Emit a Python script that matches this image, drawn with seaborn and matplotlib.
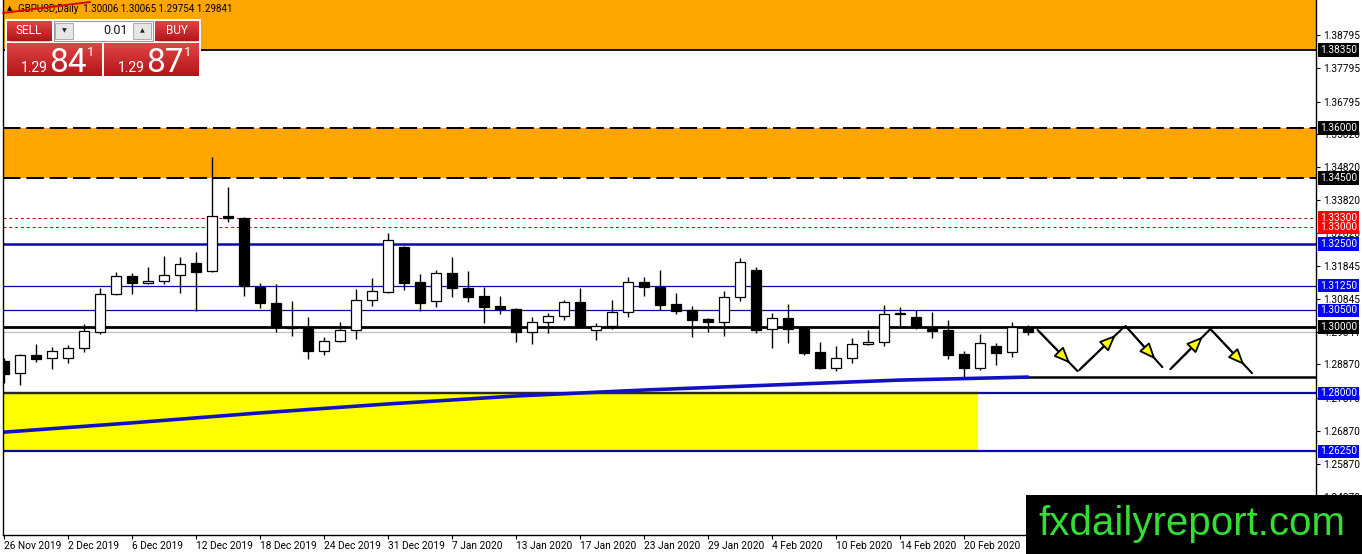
import numpy as np
import matplotlib
matplotlib.use("Agg")
import matplotlib.pyplot as plt
import matplotlib.transforms as mtransforms
from matplotlib.colors import LinearSegmentedColormap
from matplotlib.patches import Rectangle
from matplotlib.lines import Line2D
import seaborn as sns

# daily GBPUSD bars, 26 Nov 2019 .. 26 Feb 2020
opens = [1.2898, 1.2861, 1.2916, 1.2907, 1.2907, 1.2937, 1.2985, 1.3099, 1.3154, 1.3133,
         1.3139, 1.3157, 1.3193, 1.3169, 1.3335, 1.3329, 1.3121, 1.3072, 1.3000, 1.3000,
         1.2928, 1.2958, 1.2991, 1.3081, 1.3106, 1.3241, 1.3136, 1.3078, 1.3163, 1.3118,
         1.3093, 1.3063, 1.3054, 1.2985, 1.3015, 1.3033, 1.3075, 1.2991, 1.3003, 1.3045,
         1.3136, 1.3121, 1.3069, 1.3051, 1.3024, 1.3015, 1.3090, 1.3172, 1.2994, 1.3027,
         1.2997, 1.2925, 1.2876, 1.2907, 1.2949, 1.2955, 1.3039, 1.3030, 1.3000, 1.2991,
         1.2919, 1.2876, 1.2943, 1.2925, 1.30006]
highs = [1.2907, 1.2918, 1.2949, 1.2940, 1.2946, 1.3009, 1.3118, 1.3166, 1.3163, 1.3181,
         1.3214, 1.3211, 1.3226, 1.3513, 1.3422, 1.3332, 1.3133, 1.3130, 1.3078, 1.3030,
         1.2970, 1.3015, 1.3115, 1.3148, 1.3283, 1.3243, 1.3160, 1.3172, 1.3211, 1.3169,
         1.3121, 1.3093, 1.3056, 1.3030, 1.3042, 1.3081, 1.3118, 1.3012, 1.3081, 1.3151,
         1.3151, 1.3172, 1.3103, 1.3063, 1.3027, 1.3109, 1.3208, 1.3181, 1.3042, 1.3069,
         1.2999, 1.2955, 1.2943, 1.2967, 1.2991, 1.3066, 1.3060, 1.3051, 1.3045, 1.3021,
         1.2928, 1.2979, 1.2952, 1.3015, 1.30065]
lows = [1.2831, 1.2825, 1.2894, 1.2873, 1.2891, 1.2925, 1.2979, 1.3097, 1.3099, 1.3130,
        1.3130, 1.3103, 1.3048, 1.3166, 1.3317, 1.3093, 1.3057, 1.2985, 1.2973, 1.2904,
        1.2916, 1.2955, 1.2964, 1.3063, 1.3103, 1.3112, 1.3048, 1.3060, 1.3090, 1.3075,
        1.3012, 1.3039, 1.2955, 1.2949, 1.2982, 1.3021, 1.2998, 1.2961, 1.2994, 1.3030,
        1.3093, 1.3051, 1.3039, 1.2970, 1.2985, 1.2973, 1.3078, 1.2982, 1.2937, 1.2952,
        1.2916, 1.2873, 1.2867, 1.2891, 1.2946, 1.2943, 1.3003, 1.2994, 1.2967, 1.2904,
        1.2849, 1.2870, 1.2885, 1.2910, 1.29754]
closes = [1.2858, 1.2916, 1.2904, 1.2928, 1.2937, 1.2988, 1.3099, 1.3154, 1.3133, 1.3139,
          1.3157, 1.3190, 1.3166, 1.3335, 1.3329, 1.3124, 1.3072, 1.3000, 1.2997, 1.2928,
          1.2958, 1.2991, 1.3081, 1.3109, 1.3262, 1.3133, 1.3072, 1.3163, 1.3118, 1.3090,
          1.3060, 1.3054, 1.2985, 1.3015, 1.3033, 1.3075, 1.3000, 1.3003, 1.3045, 1.3136,
          1.3121, 1.3066, 1.3048, 1.3021, 1.3015, 1.3090, 1.3196, 1.2991, 1.3027, 1.2994,
          1.2922, 1.2876, 1.2907, 1.2949, 1.2955, 1.3039, 1.3042, 1.3000, 1.2988, 1.2916,
          1.2876, 1.2952, 1.2922, 1.3000, 1.29841]

date_labels = ["26 Nov 2019", "2 Dec 2019", "6 Dec 2019", "12 Dec 2019", "18 Dec 2019",
               "24 Dec 2019", "31 Dec 2019", "7 Jan 2020", "13 Jan 2020", "17 Jan 2020",
               "23 Jan 2020", "29 Jan 2020", "4 Feb 2020", "10 Feb 2020", "14 Feb 2020",
               "20 Feb 2020"]

# slow moving average (sampled every 8 bars)
ma_idx = [0, 8, 16, 24, 32, 40, 48, 56, 64]
ma_val = [1.2683, 1.2711, 1.2741, 1.2768, 1.2792, 1.2810, 1.2825, 1.2840, 1.2849]

# price axis
ytick_vals = [1.38795, 1.37795, 1.36795, 1.35820, 1.34820, 1.33820, 1.32820, 1.31845,
              1.30845, 1.29841, 1.28870, 1.27870, 1.26870, 1.25870, 1.24870]
level_vals = [1.38350, 1.36000, 1.34500, 1.33300, 1.33000, 1.32500, 1.31250, 1.30500,
              1.30000, 1.28000, 1.26250]
level_cols = ["black", "black", "black", "#ff0000", "#ff0000", "#0000ff", "#0000ff",
              "#0000ff", "black", "#0000ff", "#0000ff"]

# zones and the projected zig-zag
supply_top = (1.3835, 1.40)
supply_mid = (1.3450, 1.3600)
demand = (1.2625, 1.2800)
demand_end = 60.9
support_lvl = 1.2850
support_start = 63.8
zigzag = [(64.6, 1.2991, 67.1, 1.2867),
          (67.2, 1.2870, 70.0, 1.3000),
          (70.1, 1.3003, 72.4, 1.2879),
          (72.9, 1.2873, 75.4, 1.2994),
          (75.4, 1.2994, 78.0, 1.2861)]

sns.set_theme(style="white")
plt.rcParams["font.family"] = ["Roboto", "DejaVu Sans"]

W, H = 1362, 554
fig = plt.figure(figsize=(W / 100, H / 100), dpi=100)
ax = fig.add_axes([3 / W, 19 / H, 1313 / W, 535 / H])
ax.set_xlim(-0.06, 82.0)
ax.set_ylim(1.23729, 1.39859)

# zones
ax.axhspan(*supply_top, color="#ffa500", lw=0, zorder=0)
ax.axhspan(*supply_mid, color="#ffa500", lw=0, zorder=0)
ax.add_patch(Rectangle((-1, demand[0]), demand_end + 1, demand[1] - demand[0],
                       color="#ffff00", lw=0, zorder=0))

# horizontal levels
ax.axhline(1.3835, color="black", lw=1.3, zorder=1)
ax.axhline(1.3600, color="black", lw=1.4, ls=(0, (9, 3)), zorder=1)
ax.axhline(1.3450, color="black", lw=1.4, ls=(0, (9, 3)), zorder=1)
ax.axhline(1.3330, color="#c00000", lw=0.7, ls=(0, (3, 3)), zorder=1)
ax.axhline(1.3300, color="#c00000", lw=0.7, ls=(0, (3, 3)), zorder=1)
ax.axhline(1.3250, color="#0a0aa8", lw=1.8, zorder=1)
ax.axhline(1.3125, color="#0a0aa8", lw=0.9, zorder=1)
ax.axhline(1.3050, color="#0a0aa8", lw=0.9, zorder=1)
ax.axhline(closes[-1], color="#c0c0c0", lw=0.9, zorder=1)
ax.axhline(1.3000, color="black", lw=2.0, zorder=1)
ax.axhline(demand[1], color="#0a0aa8", lw=1.6, zorder=1)
ax.plot([-1, demand_end], [demand[1], demand[1]], color="#2a2a2a", lw=1.6, zorder=1)
ax.axhline(demand[0], color="#0a0aa8", lw=1.6, zorder=1)
ax.plot([support_start, 90], [support_lvl, support_lvl], color="black", lw=1.8, zorder=1)

# moving average
sns.lineplot(x=ma_idx, y=ma_val, ax=ax, color="#1212c4", lw=2.6, zorder=2)

# candles
x = np.arange(len(opens))
o, h, l, c = map(np.array, (opens, highs, lows, closes))
ax.vlines(x, l, h, color="black", lw=1.0, zorder=3)
up = c >= o
body = np.maximum(np.abs(c - o), 0.00008)
ax.bar(x, body, bottom=np.minimum(o, c), width=0.66,
       color=np.where(up, "white", "black"), edgecolor="black", lw=0.9, zorder=4)

# zig-zag projection
for x0, y0, x1, y1 in zigzag:
    tx, ty = x0 + 0.86 * (x1 - x0), y0 + 0.86 * (y1 - y0)
    ax.plot([x0, x1], [y0, y1], color="black", lw=1.5, zorder=5)
    ax.annotate("", xy=(tx, ty), xytext=(x0, y0),
                arrowprops=dict(arrowstyle="-|>,head_length=0.9,head_width=0.38",
                                mutation_scale=11, fc="#ffff00", ec="black", lw=1.3),
                zorder=6)

# axes look
for s in ax.spines.values():
    s.set_color("black")
    s.set_linewidth(1.0)
ax.spines["top"].set_visible(False)
ax.yaxis.tick_right()
ax.set_yticks(ytick_vals, [f"{v:.5f}" for v in ytick_vals])
ax.set_xticks(range(0, 61, 4), date_labels)
ax.tick_params(axis="y", right=True, length=3, width=0.8, pad=2, labelsize=7.3,
               direction="out", colors="black")
ax.tick_params(axis="x", bottom=True, length=3, width=0.8, pad=1.5, labelsize=7.3,
               direction="out", colors="black")
for lab in ax.get_xticklabels():
    lab.set_ha("left")
ax.set_xlabel("")
ax.set_ylabel("")

# coloured price labels on the scale
lab_tr = mtransforms.blended_transform_factory(ax.transAxes, ax.transData)
for v, col in zip(level_vals, level_cols):
    ax.text(1.0 + 4 / 1313, v, f"{v:.5f}", transform=lab_tr, ha="left", va="center",
            fontsize=7.3, color="white", clip_on=False, zorder=10,
            bbox=dict(boxstyle="square,pad=0.18", fc=col, ec="none"))


def fr(x0, y0, x1, y1):
    return [x0 / W, 1 - y1 / H, (x1 - x0) / W, (y1 - y0) / H]


# header and trendline scribble
fig.text(7 / W, 1 - 9 / H, "▲", fontsize=5, va="center", color="black")
fig.text(18 / W, 1 - 9 / H, "GBPUSD,Daily  1.30006 1.30065 1.29754 1.29841",
         fontsize=7.0, va="center", color="black")
fig.lines.append(Line2D([3 / W, 90 / W], [1 - 13 / H, 1 - 2 / H], color="#e00000", lw=1.4,
                        transform=fig.transFigure, zorder=5))

# one-click trading panel
fig.patches.append(Rectangle((5 / W, 1 - 78 / H), 196 / W, 59 / H, fc="white", ec="none",
                             transform=fig.transFigure, zorder=3))
red = LinearSegmentedColormap.from_list("panel", ["#e04545", "#b41518"])
grad = np.linspace(0, 1, 40)[:, None]
for box in [(7, 21, 52, 41), (155, 21, 199, 41), (7, 43, 102, 76), (104, 43, 199, 76)]:
    bax = fig.add_axes(fr(*box), zorder=4)
    bax.imshow(grad, cmap=red, aspect="auto", extent=(0, 1, 0, 1))
    bax.set_axis_off()
fig.patches.append(Rectangle((54 / W, 1 - 41 / H), 99 / W, 20 / H, fc="white", ec="#9a9a9a",
                             lw=0.8, transform=fig.transFigure, zorder=5))
for bx in (55, 133):
    fig.patches.append(Rectangle((bx / W, 1 - 39 / H), 18 / W, 16 / H, fc="#e6e6e6",
                                 ec="#a0a0a0", lw=0.6, transform=fig.transFigure, zorder=6))
fig.text(64 / W, 1 - 31 / H, "▼", fontsize=4.5, ha="center", va="center", zorder=7)
fig.text(142 / W, 1 - 31 / H, "▲", fontsize=4.5, ha="center", va="center", zorder=7)
fig.text(128 / W, 1 - 31 / H, "0.01", fontsize=9, ha="right", va="center", color="#111111",
         zorder=7)
fig.text(29 / W, 1 - 31 / H, "SELL", fontsize=8.5, ha="center", va="center", color="white",
         zorder=7)
fig.text(177 / W, 1 - 31 / H, "BUY", fontsize=8.5, ha="center", va="center", color="white",
         zorder=7)
for bx0, bx1 in [(10, 49), (158, 196)]:
    fig.lines.append(Line2D([bx0 / W, bx1 / W], [1 - 40.5 / H] * 2, color="#f2b0b0", lw=0.7,
                            transform=fig.transFigure, zorder=7))
for x0, big in [(21, "84"), (118, "87")]:
    fig.text(x0 / W, 1 - 72 / H, "1.29", fontsize=10, ha="left", va="baseline",
             color="white", zorder=7)
    fig.text((x0 + 28) / W, 1 - 72 / H, big, fontsize=24, ha="left", va="baseline",
             color="white", zorder=7)
    fig.text((x0 + 66) / W, 1 - 56 / H, "1", fontsize=9.5, ha="left", va="baseline",
             color="white", zorder=7)

# watermark
fig.patches.append(Rectangle((1026 / W, 0), (W - 1026) / W, (H - 495) / H, fc="black",
                             ec="none", transform=fig.transFigure, zorder=8))
fig.text(1192 / W, 1 - 535 / H, "fxdailyreport.com", fontsize=29, ha="center",
         va="baseline", color="#33dd33", family=["Liberation Sans", "DejaVu Sans"], zorder=9)

fig.savefig("out.png", dpi=100)
